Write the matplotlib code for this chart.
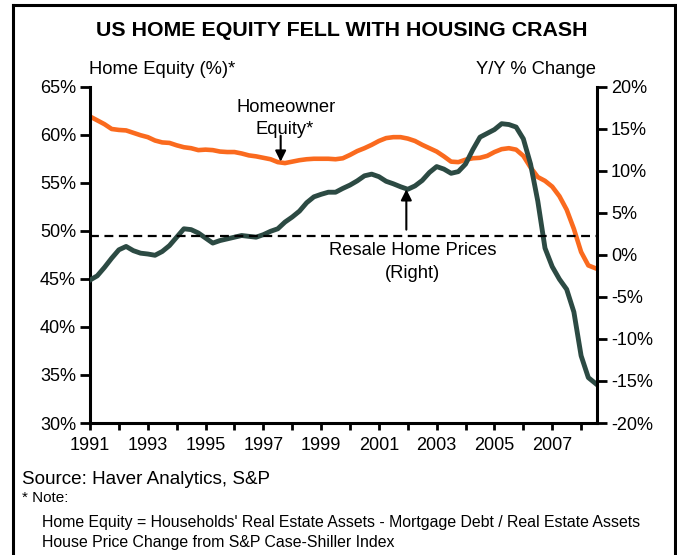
import numpy as np
import matplotlib
matplotlib.use("Agg")
import matplotlib.pyplot as plt
from matplotlib.lines import Line2D

plt.rcParams['font.family'] = ['Liberation Sans', 'DejaVu Sans']

# quarterly data, 1991Q1 .. 2008Q3
quarters = np.arange(1991, 2008.51, 0.25)

# home equity as % of real estate assets (left axis)
home_equity = [61.9, 61.5, 61.1, 60.6, 60.5, 60.45, 60.2, 59.95,
               59.75, 59.4, 59.2, 59.15, 58.9, 58.7, 58.6, 58.4,
               58.45, 58.4, 58.25, 58.2, 58.2, 58.05, 57.85, 57.75,
               57.6, 57.45, 57.15, 57.05, 57.2, 57.35, 57.45, 57.5,
               57.5, 57.5, 57.45, 57.55, 57.9, 58.3, 58.6, 58.95,
               59.35, 59.65, 59.75, 59.75, 59.6, 59.35, 58.95, 58.6,
               58.25, 57.75, 57.2, 57.15, 57.4, 57.55, 57.6, 57.8,
               58.2, 58.5, 58.6, 58.45, 57.8, 56.6, 55.6, 55.2,
               54.6, 53.6, 52.2, 50.2, 47.8, 46.4, 46.1]

# resale home prices, y/y % change (right axis)
price_change = [-3.0, -2.5, -1.5, -0.4, 0.6, 1.0, 0.5, 0.2,
                0.1, -0.05, 0.4, 1.1, 2.1, 3.1, 3.0, 2.6,
                2.0, 1.4, 1.7, 1.9, 2.1, 2.3, 2.2, 2.1,
                2.4, 2.8, 3.1, 3.9, 4.5, 5.2, 6.2, 6.9,
                7.2, 7.45, 7.45, 7.9, 8.3, 8.8, 9.4, 9.6,
                9.3, 8.75, 8.45, 8.1, 7.8, 8.2, 8.85, 9.8,
                10.5, 10.2, 9.7, 9.9, 10.8, 12.5, 14.0, 14.45,
                14.9, 15.6, 15.5, 15.2, 13.8, 10.8, 6.4, 0.8,
                -1.4, -2.9, -4.1, -6.8, -12.0, -14.6, -15.3]

avg_change = 2.2

year_ticks = list(range(1991, 2009))
year_labels = [str(y) if y % 2 == 1 else '' for y in year_ticks]
left_ticks = [30, 35, 40, 45, 50, 55, 60, 65]
right_ticks = [-20, -15, -10, -5, 0, 5, 10, 15, 20]

orange = '#FA6A1E'
green = '#2C4A43'

W, H = 677, 555
fig = plt.figure(figsize=(W / 100, H / 100), dpi=100)


def fx(px):
    return px / W


def fy(py):
    return 1 - py / H


ax = fig.add_axes([fx(90), fy(423), fx(597) - fx(90), fy(86.7) - fy(423)])
ax2 = ax.twinx()

ax.plot(quarters, home_equity, color=orange, lw=3.3, solid_joinstyle='round')
ax2.plot(quarters, price_change, color=green, lw=3.5, solid_joinstyle='round')
ax2.axhline(avg_change, color='black', lw=1.6, ls=(0, (4, 2.5)))

ax.set_xlim(1991, 2008.55)
ax.set_ylim(30, 65)
ax2.set_ylim(-20, 20)

ax.set_xticks(year_ticks)
ax.set_xticklabels(year_labels)
ax.set_yticks(left_ticks)
ax.set_yticklabels([f'{v}%' for v in left_ticks])
ax2.set_yticks(right_ticks)
ax2.set_yticklabels([f'{v}%' for v in right_ticks])

for a in (ax, ax2):
    for s in a.spines.values():
        s.set_linewidth(2.2)
    a.spines['top'].set_visible(False)
ax.spines['right'].set_visible(False)
ax2.spines['left'].set_visible(False)
ax2.spines['bottom'].set_visible(False)

ax.tick_params(axis='both', direction='out', length=7, width=2, labelsize=13, pad=3)
ax.tick_params(axis='x', length=5, pad=5)
ax2.tick_params(axis='y', direction='out', length=7, width=2, labelsize=13, pad=3)

# annotations
ax.annotate('', xy=(1997.6, 57.2), xytext=(1997.6, 59.9),
            arrowprops=dict(arrowstyle='-|>', color='black', lw=1.5,
                            mutation_scale=16, shrinkA=0, shrinkB=0))
fig.text(fx(286), fy(107), 'Homeowner', ha='center', va='center', fontsize=13.2)
fig.text(fx(285), fy(130), 'Equity*', ha='center', va='center', fontsize=13.2)

ax2.annotate('', xy=(2001.95, 7.8), xytext=(2001.95, 3.0),
             arrowprops=dict(arrowstyle='-|>', color='black', lw=1.5,
                             mutation_scale=16, shrinkA=0, shrinkB=0))
fig.text(fx(412.5), fy(250), 'Resale Home Prices', ha='center', va='center', fontsize=13.2)
fig.text(fx(412.5), fy(273), '(Right)', ha='center', va='center', fontsize=13.2)

# titles and axis captions
fig.text(fx(342), fy(31), 'US HOME EQUITY FELL WITH HOUSING CRASH',
         ha='center', va='center', fontsize=15.4, fontweight='bold')
fig.text(fx(89), fy(70), 'Home Equity (%)*', ha='left', va='center', fontsize=13.2)
fig.text(fx(596), fy(70), 'Y/Y % Change', ha='right', va='center', fontsize=13.2)

# footer
fig.text(fx(22), fy(480), 'Source: Haver Analytics, S&P', ha='left', va='center', fontsize=13.6)
fig.text(fx(22), fy(498), '* Note:', ha='left', va='center', fontsize=11)
fig.text(fx(42), fy(522),
         "Home Equity = Households' Real Estate Assets - Mortgage Debt / Real Estate Assets",
         ha='left', va='center', fontsize=11.4)
fig.text(fx(42), fy(542), 'House Price Change from S&P Case-Shiller Index',
         ha='left', va='center', fontsize=11.4)

# outer frame (open at the bottom)
frame = dict(color='black', lw=2.2, transform=fig.transFigure, clip_on=False)
fig.add_artist(Line2D([fx(13), fx(13)], [fy(5), 0], **frame))
fig.add_artist(Line2D([fx(13), fx(675)], [fy(5), fy(5)], **frame))
fig.add_artist(Line2D([fx(675), fx(675)], [fy(5), 0], **frame))

fig.savefig('out.png', dpi=100)
